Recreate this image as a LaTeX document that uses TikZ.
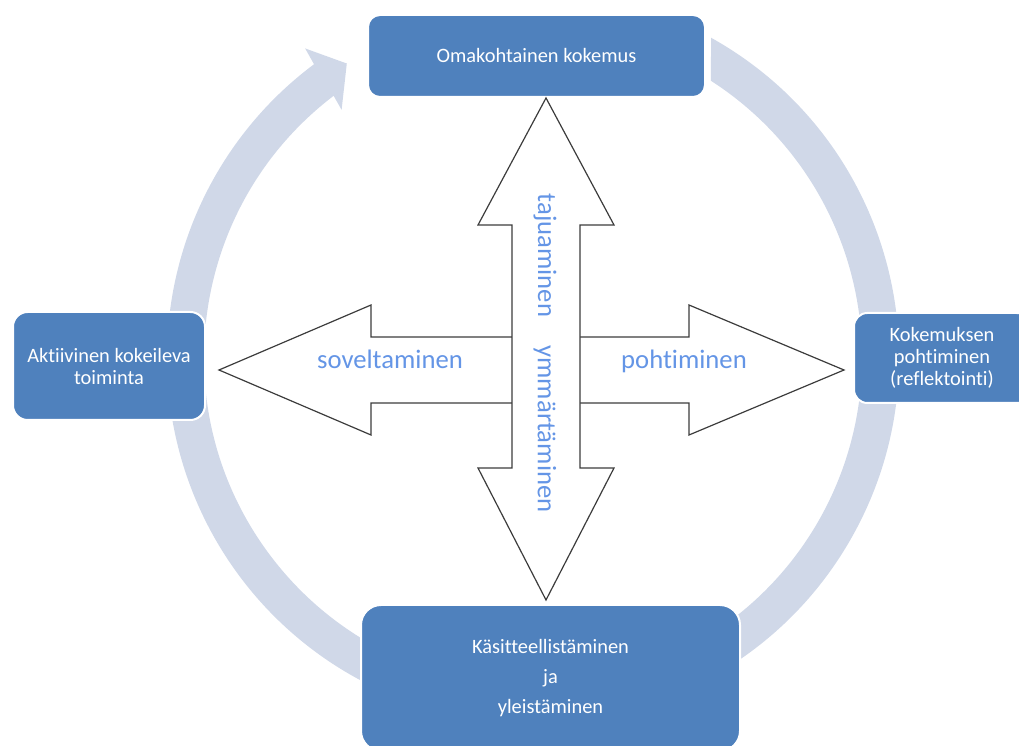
\documentclass[tikz,border=0pt]{standalone}
\usepackage{fontspec}
\setmainfont{Carlito}[RawFeature={-liga;-clig;-calt;-dlig}]
\usetikzlibrary{calc}
\definecolor{cbox}{HTML}{4F81BD}
\definecolor{cring}{HTML}{D0D8E8}
\definecolor{clabel}{HTML}{6495E6}
\definecolor{cline}{HTML}{3C3C3C}
\tikzset{
  stage/.style={draw=white,line width=1.5pt,fill=cbox,text=white,align=center,
    inner sep=0pt,font=\fontsize{15.3}{16.5}\selectfont},
  cross/.style={draw=cline,fill=white,line width=0.9pt,line join=miter},
  verb/.style={text=clabel,font=\fontsize{20}{22}\selectfont}
}

\begin{document}
\begin{tikzpicture}[x=0.75pt,y=0.75pt]
\clip (0,0) rectangle (1019,745);
% cycle ring, head at top left
\begin{scope}[shift={(533,387.5)}]
  \fill[cring] (60.9:366) arc[start angle=60.9,end angle=-233.25,radius=366]
    -- (-233.6:384) -- (-237.65:348) -- (-232.3:313) -- (-232.7:329)
    arc[start angle=-232.7,end angle=57.25,radius=329] -- cycle;
\end{scope}
% stages
\node[stage,minimum width=252.75pt,minimum height=61.5pt,rounded corners=9pt]
  (kokemus) at (536.5,689) {Omakohtainen kokemus};
\node[stage,minimum width=132pt,minimum height=67.5pt,rounded corners=10pt]
  (pohdinta) at (942,387) {Kokemuksen\\pohtiminen\\(reflektointi)};
\node[stage,minimum width=284.25pt,minimum height=109.5pt,rounded corners=15pt]
  (yleis) at (550.5,67) {Käsitteellistäminen\\[6pt]ja\\[6pt]yleistäminen};
\node[stage,minimum width=144pt,minimum height=81pt,rounded corners=11pt]
  (toiminta) at (109,379) {Aktiivinen kokeileva\\toiminta};
% cross of double arrows
\coordinate (c) at (546,375);
\coordinate (vt) at (kokemus.south -| c);
\coordinate (vb) at ($(yleis.north -| c)+(0,4)$);
\coordinate (hl) at ($(toiminta.east |- c)+(13,0)$);
\coordinate (hr) at ($(pohdinta.west |- c)+(-9,0)$);
\draw[cross] (hl) -- ($(hl)+(152,65)$) -- ($(hl)+(152,33)$) -- ($(hr)+(-155,33)$)
  -- ($(hr)+(-155,65)$) -- (hr) -- ($(hr)+(-155,-65)$) -- ($(hr)+(-155,-33)$)
  -- ($(hl)+(152,-33)$) -- ($(hl)+(152,-65)$) -- cycle;
\draw[cross] (vt) -- ($(vt)+(68,-127)$) -- ($(vt)+(34,-127)$) -- ($(vb)+(34,132)$)
  -- ($(vb)+(68,132)$) -- (vb) -- ($(vb)+(-68,132)$) -- ($(vb)+(-34,132)$)
  -- ($(vt)+(-34,-127)$) -- ($(vt)+(-68,-127)$) -- cycle;
\node[verb,anchor=base] (soveltaminen) at (390,376) {soveltaminen};
\node[verb,anchor=base] (pohtiminen) at (684,376) {pohtiminen};
\node[verb,rotate=-90] (tajuaminen) at (545,489.5) {tajuaminen};
\node[verb,rotate=-90] (ymmartaminen) at (545,316) {ymmärtäminen};
\end{tikzpicture}
\end{document}
